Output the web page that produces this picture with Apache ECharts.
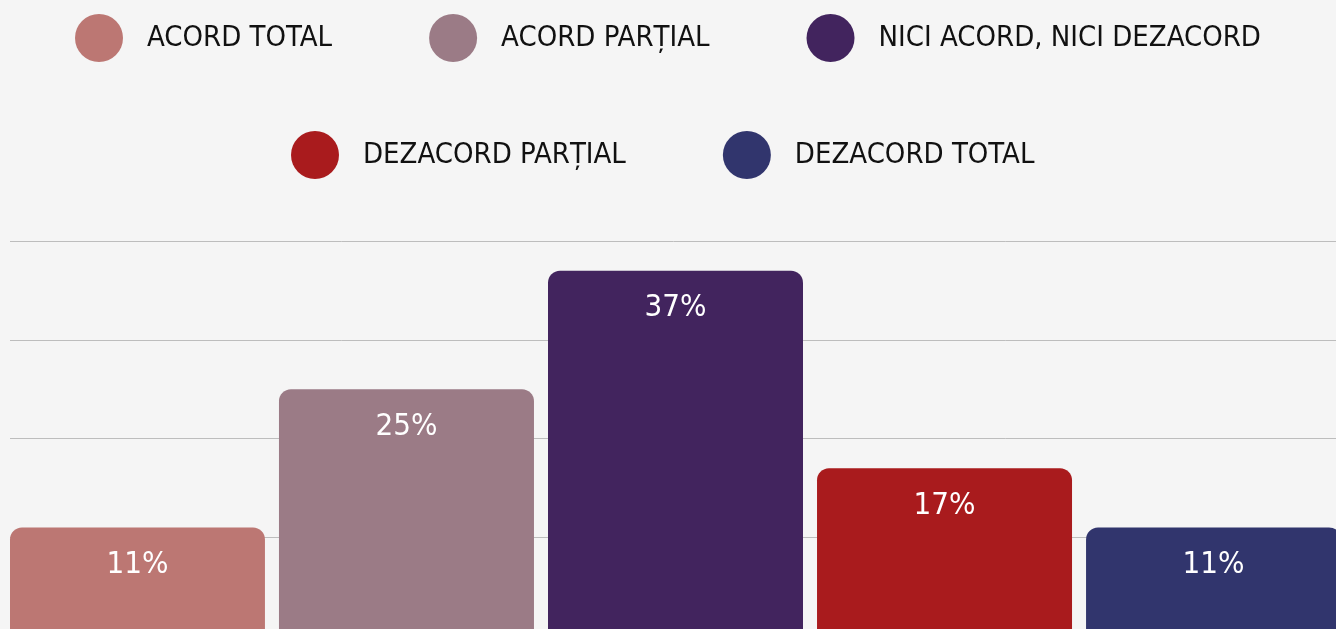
<!DOCTYPE html>
<html>
<head>
<meta charset="UTF-8">
<title>Echarts</title>
<script src="https://cdn.jsdelivr.net/npm/echarts@6/dist/echarts.min.js"></script>
<style>
	html,body{margin:0;padding:0;background:#f5f5f5;}
</style>
</head>
<body>
	<div id="main" style="width:1336px;height:629px;"></div>
	<script type="text/javascript">
		var myChart = echarts.init(document.getElementById('main'));
		// raspunsuri si procente
		var categories = ['Total'];
		var names = ['ACORD TOTAL','ACORD PARȚIAL','NICI ACORD, NICI DEZACORD','DEZACORD PARȚIAL','DEZACORD TOTAL'];
		var values = [11,25,37,17,11];
		var colors = ['#bc7773','#9b7b86','#42245e','#a91b1d','#31356d'];
		var yTicks = [0,10,20,30,40];

		var font = '"DejaVu Sans Condensed", "DejaVu Sans", sans-serif';

		var series = names.map(function(n,i){
			return {
				name:n,
				type:'bar',
				barWidth:255,
				barGap:'5.5%',
				data:[values[i]],
				itemStyle:{color:colors[i],borderRadius:[12,12,0,0]},
				label:{
					show:true,
					position:'insideTop',
					distance:22,
					formatter:'{c}%',
					color:'#fff',
					fontFamily:font,
					fontSize:31
				}
			};
		});

		var legendText = {
			color:'#111',
			fontFamily:font,
			fontSize:29,
			padding:[0,0,0,19]
		};

		var option={
			backgroundColor:'#f5f5f5',
			legend:[
				{
					data:names.slice(0,3),
					left:75,
					top:14,
					width:1300,
					padding:0,
					itemGap:97,
					itemWidth:48,
					itemHeight:48,
					icon:'circle',
					textStyle:legendText
				},
				{
					data:names.slice(3),
					left:291,
					top:131,
					width:1300,
					padding:0,
					itemGap:97,
					itemWidth:48,
					itemHeight:48,
					icon:'circle',
					textStyle:legendText
				}
			],
			grid:{
				left:10,
				width:1331,
				top:241,
				height:395,
				outerBoundsMode:'none'
			},
			xAxis:{
				type:'category',
				data:categories,
				show:false
			},
			yAxis:{
				type:'value',
				min:yTicks[0],
				max:yTicks[yTicks.length-1],
				interval:10,
				axisLabel:{show:false},
				axisLine:{show:false},
				axisTick:{show:false},
				splitLine:{lineStyle:{color:'#bdbdbd',width:1}}
			},
			series:series
		};
		myChart.setOption(option);
	</script>
</body>
</html>
